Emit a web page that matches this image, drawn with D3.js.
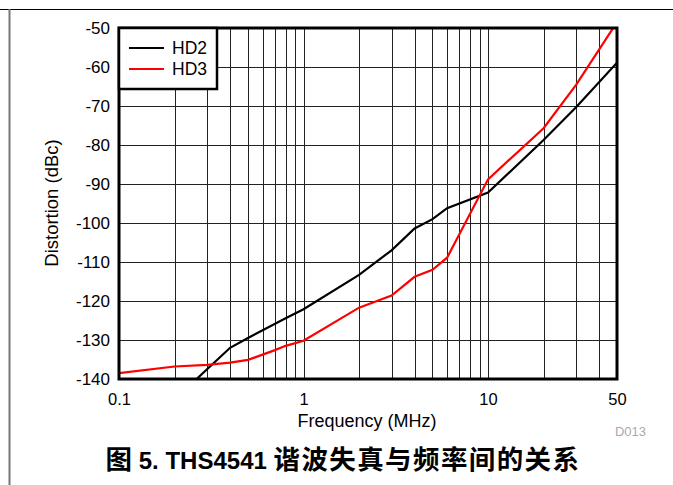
<!DOCTYPE html>
<html>
<head>
<meta charset="utf-8">
<script src="https://cdn.jsdelivr.net/npm/d3@7"></script>
<style>
  body { margin: 0; background: #fff; }
  text { font-family: "Liberation Sans", Arial, "Noto Sans CJK SC", sans-serif; }
</style>
</head>
<body>
<div id="chart"></div>
<script>
// HD2 / HD3 distortion vs frequency
var hd2Freq = [0.25, 0.4, 0.5, 0.8, 1, 2, 3, 4, 5, 6, 10, 20, 30, 50];
var hd2Db = [-141, -132, -129.5, -124.4, -122.1, -113.3, -107, -101.4, -99, -96.2, -92.2, -78.7, -70.3, -58.9];
var hd3Freq = [0.1, 0.2, 0.3, 0.4, 0.5, 0.7, 0.8, 1, 2, 3, 4, 5, 6, 10, 20, 30, 50];
var hd3Db = [-138.5, -136.8, -136.4, -135.8, -135.1, -132.6, -131.5, -130.2, -121.7, -118.6, -113.8, -112, -108.9, -88.8, -75.7, -64.6, -48.5];
var xTicks = [0.1, 1, 10, 50];
var yTicks = [-50, -60, -70, -80, -90, -100, -110, -120, -130, -140];
var seriesNames = ["HD2", "HD3"];
var seriesColors = ["#000000", "#ff0000"];

var width = 673, height = 485;
var margin = {top: 28, right: 56, bottom: 106, left: 119};

var svg = d3.select("#chart")
    .append("svg")
    .attr("width", width)
    .attr("height", height);

// page furniture: top rule and left rule
svg.append("line")
    .attr("x1", 0).attr("x2", width)
    .attr("y1", 9.5).attr("y2", 9.5)
    .attr("stroke", "#000").attr("stroke-width", 1);
svg.append("line")
    .attr("x1", 9.5).attr("x2", 9.5)
    .attr("y1", 9).attr("y2", height)
    .attr("stroke", "#777").attr("stroke-width", 2);

var x = d3.scaleLog()
    .domain([0.1, 50])
    .range([margin.left, width - margin.right]);
var y = d3.scaleLinear()
    .domain([-140, -50])
    .range([height - margin.bottom, margin.top]);

// grid lines
var minor = [];
[0.1, 1, 10].forEach(function (dec) {
    for (var k = 2; k <= 9; k++) {
        if (dec * k < 50) minor.push(dec * k);
    }
});
minor.push(1, 10);

svg.append("g")
    .selectAll("line")
    .data(minor)
    .enter()
    .append("line")
    .attr("x1", function (d) { return Math.round(x(d)) + 0.5; })
    .attr("x2", function (d) { return Math.round(x(d)) + 0.5; })
    .attr("y1", y(-140))
    .attr("y2", y(-50))
    .attr("stroke", "#222")
    .attr("stroke-width", 1);

svg.append("g")
    .selectAll("line")
    .data(yTicks.slice(1, -1))
    .enter()
    .append("line")
    .attr("x1", x(0.1))
    .attr("x2", x(50))
    .attr("y1", function (d) { return Math.round(y(d)) + 0.5; })
    .attr("y2", function (d) { return Math.round(y(d)) + 0.5; })
    .attr("stroke", "#222")
    .attr("stroke-width", 1);

// curves
svg.append("clipPath").attr("id", "plotClip")
    .append("rect")
    .attr("x", x(0.1)).attr("y", y(-50))
    .attr("width", x(50) - x(0.1)).attr("height", y(-140) - y(-50));

var line = d3.line()
    .x(function (d) { return x(d[0]); })
    .y(function (d) { return y(d[1]); });

var hd2 = hd2Freq.map(function (f, i) { return [f, hd2Db[i]]; });
var hd3 = hd3Freq.map(function (f, i) { return [f, hd3Db[i]]; });

var curves = svg.append("g").attr("clip-path", "url(#plotClip)");
curves.append("path")
    .attr("d", line(hd2))
    .attr("fill", "none")
    .attr("stroke", seriesColors[0])
    .attr("stroke-width", 2.2);
curves.append("path")
    .attr("d", line(hd3))
    .attr("fill", "none")
    .attr("stroke", seriesColors[1])
    .attr("stroke-width", 2.2);

// frame
svg.append("rect")
    .attr("x", x(0.1))
    .attr("y", y(-50))
    .attr("width", x(50) - x(0.1))
    .attr("height", y(-140) - y(-50))
    .attr("fill", "none")
    .attr("stroke", "#000")
    .attr("stroke-width", 3);

// axes labels
var xAxis = d3.axisBottom(x).tickValues(xTicks).tickSize(0).tickPadding(14)
    .tickFormat(function (d) { return String(d); });
var gx = svg.append("g")
    .attr("transform", "translate(0," + y(-140) + ")")
    .call(xAxis);
gx.select(".domain").remove();
gx.selectAll("text").attr("font-size", 16.5).attr("fill", "#000")
    .style("font-family", "'Liberation Sans', Arial, sans-serif");

var yAxis = d3.axisLeft(y).tickValues(yTicks).tickSize(0).tickPadding(9)
    .tickFormat(function (d) { return String(d); });
var gy = svg.append("g")
    .attr("transform", "translate(" + x(0.1) + ",0)")
    .call(yAxis);
gy.select(".domain").remove();
gy.selectAll("text").attr("font-size", 17).attr("fill", "#000")
    .style("font-family", "'Liberation Sans', Arial, sans-serif");

svg.append("text")
    .attr("x", 367)
    .attr("y", 427)
    .attr("text-anchor", "middle")
    .attr("font-size", 18)
    .text("Frequency (MHz)");

svg.append("text")
    .attr("transform", "translate(58,203) rotate(-90)")
    .attr("text-anchor", "middle")
    .attr("font-size", 18.5)
    .text("Distortion (dBc)");

svg.append("text")
    .attr("x", 646)
    .attr("y", 436)
    .attr("text-anchor", "end")
    .attr("font-size", 13)
    .attr("fill", "#aaa")
    .text("D013");

var title = svg.append("text")
    .attr("x", 343)
    .attr("y", 469)
    .attr("text-anchor", "middle")
    .attr("font-weight", "bold")
    .style("font-family", "'Liberation Sans', 'Noto Sans CJK SC', sans-serif");
title.append("tspan").attr("font-size", 26.5).style("font-family", "'Noto Sans CJK SC', sans-serif").text("图");
title.append("tspan").attr("font-size", 24).text(" 5. THS4541 ");
title.append("tspan").attr("font-size", 26.5).attr("letter-spacing", 1.4)
    .style("font-family", "'Noto Sans CJK SC', sans-serif").text("谐波失真与频率间的关系");

// legend
var legend = svg.append("g");
legend.append("rect")
    .attr("x", x(0.1))
    .attr("y", y(-50))
    .attr("width", 98)
    .attr("height", 61)
    .attr("fill", "#fff")
    .attr("stroke", "#000")
    .attr("stroke-width", 2.5);

var items = legend.selectAll("g.item")
    .data(seriesNames)
    .enter()
    .append("g")
    .attr("class", "item")
    .attr("transform", function (d, i) { return "translate(" + x(0.1) + "," + (y(-50) + 20 + i * 21) + ")"; });
items.append("line")
    .attr("x1", 10).attr("x2", 45)
    .attr("y1", 0).attr("y2", 0)
    .attr("stroke", function (d, i) { return seriesColors[i]; })
    .attr("stroke-width", 2.2);
items.append("text")
    .attr("x", 53)
    .attr("y", 6)
    .attr("font-size", 17.5)
    .text(function (d) { return d; });
</script>
</body>
</html>
